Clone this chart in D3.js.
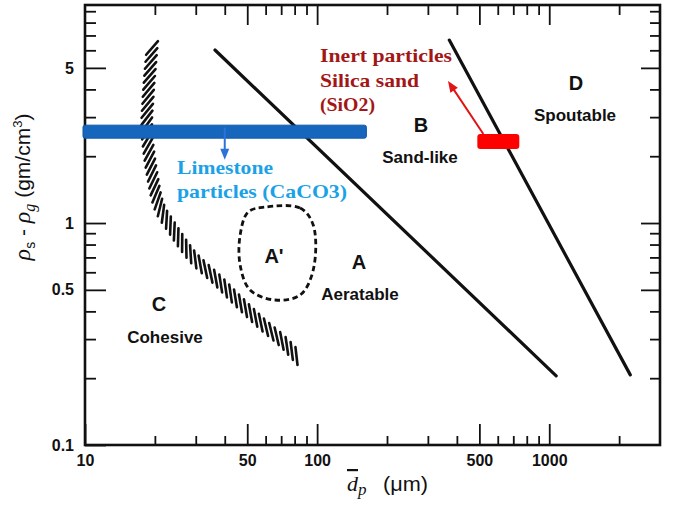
<!DOCTYPE html>
<html><head><meta charset="utf-8">
<script src="https://cdn.jsdelivr.net/npm/d3@7"></script>
<style>body{margin:0;background:#fff}</style>
</head><body><svg id="c" width="673" height="513"></svg>
<script>
// ---- data ----
const xMajorTicks = [10, 50, 100, 500, 1000];
const xMinorTicks = [20, 30, 40, 60, 70, 80, 90, 200, 300, 400, 600, 700, 800, 900, 2000];
const yMajorTicks = [0.1, 0.5, 1, 5];
const yMinorTicks = [0.2, 0.3, 0.4, 0.6, 0.7, 0.8, 0.9, 2, 3, 4, 6, 7, 8, 9];
const boundaryAB = [[36.3, 6.02], [1071, 0.205]];
const boundaryBD = [[371, 6.67], [2234, 0.207]];
const boundaryAC = [[19.5, 6.34], [18.7, 3.69], [18.5, 2.62], [19.5, 1.645], [21.0, 1.18], [23.7, 0.95],
  [29.2, 0.703], [37.1, 0.554], [45.2, 0.450], [56.8, 0.358], [71.3, 0.291], [82.8, 0.247]];
const regionAprime = [[59.7, 1.18], [84.5, 1.168], [96.2, 0.98], [96.2, 0.614], [84.5, 0.474], [65.9, 0.450],
  [51.4, 0.499], [46.6, 0.647], [46.6, 0.883], [50.4, 1.12]];
const limestoneRange = [10, 163];
const limestoneRho = 2.58;
const silicaRange = [490, 743];
const silicaRho = 2.33;
const limestoneArrowDp = 40;

// ---- scales ----
const svg = d3.select('#c');
const L = 85, R = 660, T = 5, B = 445;
const x = d3.scaleLog().domain([10, 3000]).range([L, R]);
const y = d3.scaleLog().domain([0.1, 9.6]).range([B, T]);
const font = "'Liberation Sans', Arial, sans-serif";
const serif = "'Liberation Serif', 'Times New Roman', serif";

function styleAxis(g) {
  g.select('.domain').remove();
  g.selectAll('line').attr('stroke', '#111').attr('stroke-width', 1.8);
  g.selectAll('text').attr('font-family', font).attr('font-weight', 'bold').attr('font-size', 16).attr('fill', '#111');
}
// bottom
svg.append('g').attr('transform', `translate(0,${B})`)
  .call(d3.axisBottom(x).tickValues(xMajorTicks).tickSize(-21).tickPadding(10).tickFormat(d3.format('d'))).call(styleAxis);
svg.append('g').attr('transform', `translate(0,${B})`)
  .call(d3.axisBottom(x).tickValues(xMinorTicks).tickSize(-9).tickFormat('')).call(styleAxis);
// top
svg.append('g').attr('transform', `translate(0,${T})`)
  .call(d3.axisTop(x).tickValues(xMajorTicks.slice(1)).tickSize(-20).tickFormat('')).call(styleAxis);
svg.append('g').attr('transform', `translate(0,${T})`)
  .call(d3.axisTop(x).tickValues(xMinorTicks).tickSize(-10).tickFormat('')).call(styleAxis);
// left
svg.append('g').attr('transform', `translate(${L},0)`)
  .call(d3.axisLeft(y).tickValues(yMajorTicks).tickSize(-21).tickPadding(11).tickFormat(d => d)).call(styleAxis);
svg.append('g').attr('transform', `translate(${L},0)`)
  .call(d3.axisLeft(y).tickValues(yMinorTicks).tickSize(-11).tickFormat('')).call(styleAxis);
// right
svg.append('g').attr('transform', `translate(${R},0)`)
  .call(d3.axisRight(y).tickValues(yMajorTicks.slice(1)).tickSize(-19).tickFormat('')).call(styleAxis);
svg.append('g').attr('transform', `translate(${R},0)`)
  .call(d3.axisRight(y).tickValues(yMinorTicks).tickSize(-10).tickFormat('')).call(styleAxis);

// frame
svg.append('rect').attr('x', L).attr('y', T).attr('width', R - L).attr('height', B - T)
  .attr('fill', 'none').attr('stroke', '#111').attr('stroke-width', 2.6);

const line = d3.line().x(d => x(d[0])).y(d => y(d[1]));

// hatched band (C boundary)
const bandPath = svg.append('path').attr('d', line.curve(d3.curveCatmullRom)(boundaryAC))
  .attr('fill', 'none').attr('stroke', 'none');
const pn = bandPath.node();
const total = pn.getTotalLength();
const hatch = [];
const step = 7, len = 18, ang = 36 * Math.PI / 180;
for (let s = 3; s < total - 1; s += step) {
  const p = pn.getPointAtLength(s);
  const a = pn.getPointAtLength(Math.max(0, s - 3)), b = pn.getPointAtLength(Math.min(total, s + 3));
  let tx = b.x - a.x, ty = b.y - a.y; const n = Math.hypot(tx, ty); tx /= n; ty /= n;
  const dx = tx * Math.cos(ang) - ty * Math.sin(ang), dy = tx * Math.sin(ang) + ty * Math.cos(ang);
  hatch.push([p.x - dx * len / 2, p.y - dy * len / 2, p.x + dx * len / 2, p.y + dy * len / 2]);
}
svg.append('g').selectAll('line').data(hatch).join('line')
  .attr('x1', d => d[0]).attr('y1', d => d[1]).attr('x2', d => d[2]).attr('y2', d => d[3])
  .attr('stroke', '#111').attr('stroke-width', 2.6).attr('stroke-linecap', 'round');

line.curve(d3.curveLinear);
// boundaries
[boundaryAB, boundaryBD].forEach(bd => {
  svg.append('path').attr('d', line(bd)).attr('fill', 'none').attr('stroke', '#111')
    .attr('stroke-width', 3.2).attr('stroke-linecap', 'round');
});
// A' region
svg.append('path').attr('d', d3.line().x(d => x(d[0])).y(d => y(d[1])).curve(d3.curveCatmullRomClosed)(regionAprime))
  .attr('fill', 'none').attr('stroke', '#111').attr('stroke-width', 2.8).attr('stroke-dasharray', '5.5,3.5');

// region labels
const lab = (t, px, py, size) => svg.append('text').attr('x', px).attr('y', py).attr('text-anchor', 'middle')
  .attr('font-family', font).attr('font-weight', 'bold').attr('font-size', size).attr('fill', '#111').text(t);
lab('D', 576, 90, 20); lab('Spoutable', 575, 121, 17);
lab('B', 421, 132, 20); lab('Sand-like', 420, 163, 17);
lab("A'", 274, 263, 20);
lab('A', 359, 269, 20); lab('Aeratable', 360, 300, 17);
lab('C', 159, 311, 20); lab('Cohesive', 165, 343, 17);

// Limestone bar
const bh = 13;
svg.append('rect').attr('x', x(limestoneRange[0]) - 2).attr('y', y(limestoneRho) - bh / 2)
  .attr('width', x(limestoneRange[1]) - x(limestoneRange[0]) + 2).attr('height', bh).attr('rx', 2)
  .attr('fill', '#1766bd').attr('stroke', '#0f58a8').attr('stroke-width', 1);
// blue arrow
const ax = x(limestoneArrowDp);
svg.append('line').attr('x1', ax).attr('y1', y(limestoneRho) - 4).attr('x2', ax).attr('y2', y(limestoneRho) + 20)
  .attr('stroke', '#2b73d8').attr('stroke-width', 2);
svg.append('path').attr('d', `M${ax - 4.5},${y(limestoneRho) + 17} L${ax + 4.5},${y(limestoneRho) + 17} L${ax},${y(limestoneRho) + 28} Z`)
  .attr('fill', '#2b73d8');

// Silica bar
const rh = 15;
svg.append('rect').attr('x', x(silicaRange[0])).attr('y', y(silicaRho) - rh / 2)
  .attr('width', x(silicaRange[1]) - x(silicaRange[0])).attr('height', rh).attr('rx', 3)
  .attr('fill', '#ff0000');
// red arrow
const sx = x(silicaRange[0]) + 6, sy = y(silicaRho) - rh / 2;
const ex = 448, ey = 81;
const ux = ex - sx, uy = ey - sy, un = Math.hypot(ux, uy);
const nx = ux / un, ny = uy / un;
svg.append('line').attr('x1', sx).attr('y1', sy).attr('x2', ex - nx * 8).attr('y2', ey - ny * 8)
  .attr('stroke', '#e01515').attr('stroke-width', 2);
svg.append('path').attr('d', `M${ex},${ey} L${ex - nx * 11 - ny * 4.5},${ey - ny * 11 + nx * 4.5} L${ex - nx * 11 + ny * 4.5},${ey - ny * 11 - nx * 4.5} Z`)
  .attr('fill', '#e01515');

// annotation texts
const ann = (t, px, py, w, col) => svg.append('text').attr('x', px).attr('y', py)
  .attr('font-family', serif).attr('font-weight', 'bold').attr('font-size', 19).attr('fill', col)
  .attr('textLength', w).attr('lengthAdjust', 'spacingAndGlyphs').text(t);
ann('Inert particles', 320, 62, 132, '#a31616');
ann('Silica sand', 320, 87, 99, '#a31616');
ann('(SiO2)', 320, 111, 55, '#a31616');
ann('Limestone', 177, 174, 96, '#1ba2e6');
ann('particles (CaCO3)', 177, 198, 170, '#1ba2e6');

// axis titles
const yt = svg.append('text').attr('transform', 'translate(30,187) rotate(-90)').attr('text-anchor', 'middle')
  .attr('font-family', font).attr('font-size', 21).attr('fill', '#111');
yt.append('tspan').attr('font-style', 'italic').attr('font-family', serif).attr('font-size', 24).text('ρ');
yt.append('tspan').attr('font-size', 14).attr('dy', 5).text('s');
yt.append('tspan').attr('dy', -5).text(' - ');
yt.append('tspan').attr('font-style', 'italic').attr('font-family', serif).attr('font-size', 24).text('ρ');
yt.append('tspan').attr('font-size', 16).attr('font-style', 'italic').attr('font-family', serif).attr('dy', 5).text('g');
yt.append('tspan').attr('dy', -5).text('  (gm/cm');
yt.append('tspan').attr('font-size', 13).attr('dy', -8).text('3');
yt.append('tspan').attr('dy', 8).text(')');

const xt = svg.append('text').attr('x', 347).attr('y', 491).attr('font-family', serif).attr('font-size', 22).attr('fill', '#111');
xt.append('tspan').attr('font-style', 'italic').attr('text-decoration', 'overline').text('d');
xt.append('tspan').attr('font-style', 'italic').attr('font-size', 17).attr('dy', 4).text('p');
svg.append('text').attr('x', 383).attr('y', 491).attr('font-family', font).attr('font-size', 20).attr('fill', '#111')
  .attr('textLength', 45).attr('lengthAdjust', 'spacingAndGlyphs').text('(μm)');
</script></body></html>
